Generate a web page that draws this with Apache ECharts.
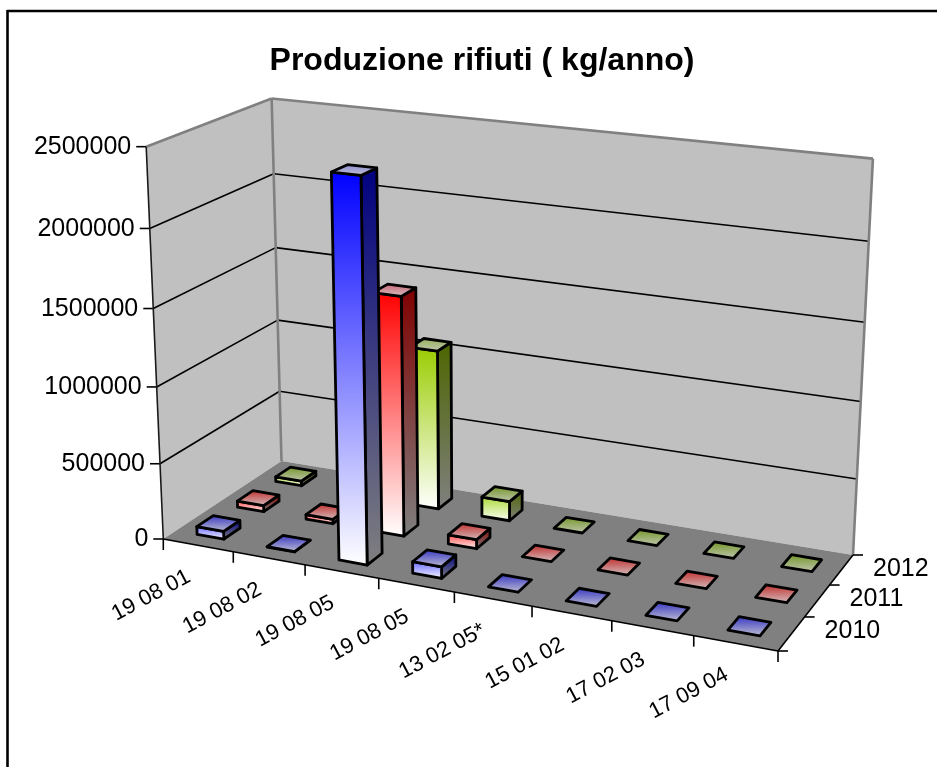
<!DOCTYPE html>
<html>
<head>
<meta charset="utf-8">
<title>Produzione rifiuti</title>
<style>
	html, body { margin: 0; padding: 0; background: #fff; }
	#chart { width: 937px; height: 767px; }
</style>
<script src="https://cdn.jsdelivr.net/npm/echarts@6/dist/echarts.min.js"></script>
</head>
<body>
<div id="chart"></div>
<script>
var categories = ['19 08 01', '19 08 02', '19 08 05', '19 08 05', '13 02 05*', '15 01 02', '17 02 03', '17 09 04'];
var years = ['2010', '2011', '2012'];
var yTicks = [0, 500000, 1000000, 1500000, 2000000, 2500000];
var values2010 = [52000, 2000, 2430000, 75000, 0, 0, 0, 0];
var values2011 = [42000, 30000, 1565000, 60000, 0, 0, 0, 0];
var values2012 = [32000, 0, 1067000, 130000, 0, 0, 0, 0];
var yMax = 2500000;

var W = 937, H = 767;
var FONT = '"Liberation Sans", Arial, sans-serif';

/*floor corners: front left, front right, back right, back left*/
var floor = [[163.3, 539], [778, 651], [853, 555], [281.5, 461]];
/*where the vertical edges meet, and how fast height shrinks towards it*/
var vanish = [484, 7900];
var vk = -0.0506;

var H3 = (function() {
	var x0 = floor[0][0], y0 = floor[0][1], x1 = floor[1][0], y1 = floor[1][1];
	var x2 = floor[2][0], y2 = floor[2][1], x3 = floor[3][0], y3 = floor[3][1];
	var dx1 = x1 - x2, dx2 = x3 - x2, sx = x0 - x1 + x2 - x3;
	var dy1 = y1 - y2, dy2 = y3 - y2, sy = y0 - y1 + y2 - y3;
	var den = dx1 * dy2 - dx2 * dy1;
	var g = (sx * dy2 - dx2 * sy) / den;
	var h = (dx1 * sy - sx * dy1) / den;
	return {
		a: x1 - x0 + g * x1, b: x3 - x0 + h * x3, c: x0,
		d: y1 - y0 + g * y1, e: y3 - y0 + h * y3, f: y0,
		g: g, h: h
	};
})();

/*u along the categories, v into the depth, w up: all 0..1*/
function project(u, v, w) {
	var hx = H3.a * u + H3.b * v + H3.c + w * vk * vanish[0];
	var hy = H3.d * u + H3.e * v + H3.f + w * vk * vanish[1];
	var hw = H3.g * u + H3.h * v + 1 + w * vk;
	return [hx / hw, hy / hw];
}

function poly(points, style) {
	return { type: 'polygon', shape: { points: points }, style: style };
}

function line(p, q, color, width) {
	return {
		type: 'line',
		shape: { x1: p[0], y1: p[1], x2: q[0], y2: q[1] },
		style: { stroke: color, lineWidth: width }
	};
}

function label(text, x, y, size, align, rotation) {
	return {
		type: 'text',
		x: x,
		y: y,
		rotation: rotation || 0,
		style: {
			text: text,
			x: 0,
			y: 0,
			fill: '#000',
			font: size + 'px ' + FONT,
			align: align,
			verticalAlign: 'middle'
		}
	};
}

function vGrad(c0, c1) {
	return new echarts.graphic.LinearGradient(0, 0, 0, 1, [
		{ offset: 0, color: c0 },
		{ offset: 1, color: c1 }
	]);
}

/*walls, floor, gridlines, ticks and axis labels*/
function renderFrame(params, api) {
	var kids = [];
	var a0 = project(0, 0, 0), b0 = project(1, 0, 0), c0 = project(1, 1, 0), d0 = project(0, 1, 0);
	var a1 = project(0, 0, 1), c1 = project(1, 1, 1), d1 = project(0, 1, 1);

	kids.push(poly([a0, d0, d1, a1], { fill: '#c0c0c0' }));
	kids.push(poly([d0, c0, c1, d1], { fill: '#c0c0c0' }));
	kids.push(poly([a0, b0, c0, d0], { fill: '#808080' }));

	yTicks.forEach(function(t) {
		var pt = api.coord([0, t]);
		var w = 1 - pt[1] / H;
		var p = project(0, 0, w), q = project(0, 1, w), r = project(1, 1, w);
		if (t > 0 && t < yMax) {
			kids.push(line(p, q, '#000', 1.6));
			kids.push(line(q, r, '#000', 1.6));
		}
		kids.push(line([p[0] - 10, p[1]], p, '#000', 1.6));
		kids.push(label(String(t), p[0] - 15, p[1] + 0.5, 25, 'right'));
	});

	kids.push(line(a1, d1, '#808080', 2.6));
	kids.push(line(d1, c1, '#808080', 2.6));
	kids.push(line(d1, d0, '#808080', 2.6));
	kids.push(line(c1, c0, '#808080', 2.6));
	kids.push(line(a0, a1, '#1a1a1a', 1.6));
	kids.push(line(a0, b0, '#000', 1.6));
	kids.push(line(b0, c0, '#000', 1.6));

	/*ticks and labels along the front edge*/
	var band = api.size([1, 0])[0];
	for (var i = 0; i <= categories.length; i++) {
		var e = project(i * band / W, 0, 0);
		kids.push(line(e, [e[0], e[1] + 11], '#000', 1.6));
	}
	categories.forEach(function(name, j) {
		var mid = project((api.coord([j, 0])[0]) / W, 0, 0);
		kids.push(label(name, mid[0] - 9, mid[1] + 30, 22, 'right', 28 * Math.PI / 180));
	});

	/*ticks and labels along the depth edge*/
	for (var r = 0; r <= years.length; r++) {
		var s = project(1, r / years.length, 0);
		kids.push(line(s, [s[0] + 10, s[1]], '#000', 1.6));
	}
	years.forEach(function(y, j) {
		var s = project(1, (j + 1) / years.length, 0);
		kids.push(label(y, s[0] + 20, s[1] + 14.5, 25, 'left'));
	});

	return { type: 'group', children: kids };
}

/*colors: front top, front top on short bars, side top, top face back, top face back on tall bars, top face front*/
function barRenderer(row, colors) {
	return function(params, api) {
		var cat = api.value(0);
		var val = api.value(1);
		var pt = api.coord([cat, val]);
		var band = api.size([1, 0])[0];
		var w = 1 - pt[1] / H;
		var u0 = (pt[0] - band * 0.195) / W, u1 = (pt[0] + band * 0.19) / W;
		var v0 = (row + 0.3) / years.length, v1 = (row + 0.7) / years.length;
		var edge = { stroke: '#000', lineWidth: 2.8, lineJoin: 'round' };
		var tall = w > 0.2;
		var kids = [];

		if (val > 0) {
			kids.push(poly([project(u1, v0, 0), project(u1, v1, 0), project(u1, v1, w), project(u1, v0, w)],
				Object.assign({ fill: vGrad(colors[2], '#808080') }, edge)));
			kids.push(poly([project(u0, v0, 0), project(u1, v0, 0), project(u1, v0, w), project(u0, v0, w)],
				Object.assign({ fill: vGrad(tall ? colors[0] : colors[1], '#ffffff') }, edge)));
		}
		kids.push(poly([project(u0, v0, w), project(u1, v0, w), project(u1, v1, w), project(u0, v1, w)],
			Object.assign({ fill: vGrad(tall ? colors[4] : colors[3], colors[5]) }, edge)));

		return { type: 'group', children: kids };
	};
}

function rows(values) {
	var out = [];
	for (var i = 0; i < values.length; i++) {
		out.push([i, values[i]]);
	}
	return out;
}

var chart = echarts.init(document.getElementById('chart'));
chart.setOption({
	animation: false,
	backgroundColor: '#fff',
	title: {
		text: 'Produzione rifiuti ( kg/anno)',
		left: 477,
		top: 40,
		textAlign: 'center',
		textStyle: { color: '#000', fontFamily: FONT, fontWeight: 'bold', fontSize: 32 }
	},
	graphic: [
		{ type: 'line', shape: { x1: 7, y1: 11, x2: 937, y2: 11 }, style: { stroke: '#000', lineWidth: 2.6 } },
		{ type: 'line', shape: { x1: 7.5, y1: 10, x2: 7.5, y2: 767 }, style: { stroke: '#000', lineWidth: 2.6 } }
	],
	grid: { left: 0, right: 0, top: 0, bottom: 0 },
	xAxis: { type: 'category', data: categories, show: false },
	yAxis: { type: 'value', min: 0, max: yMax, show: false },
	series: [
		{ type: 'custom', name: 'frame', data: [[0, 0]], renderItem: renderFrame, silent: true },
		{ type: 'custom', name: years[2], data: rows(values2012), renderItem: barRenderer(2, ['#99cc00', '#a8d830', '#4d6600', '#6f9420', '#92ae50', '#c4c8b8']) },
		{ type: 'custom', name: years[1], data: rows(values2011), renderItem: barRenderer(1, ['#ff0000', '#ff4040', '#800000', '#c02828', '#c86070', '#d4c4c4']) },
		{ type: 'custom', name: years[0], data: rows(values2010), renderItem: barRenderer(0, ['#0000ff', '#6060ff', '#000080', '#3030c0', '#8888d0', '#c4c4d4']) }
	]
});
</script>
</body>
</html>
